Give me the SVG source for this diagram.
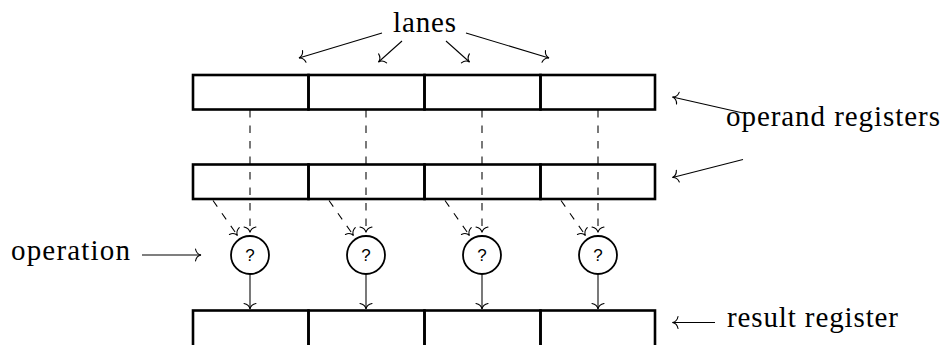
<svg xmlns="http://www.w3.org/2000/svg" width="947" height="345" viewBox="0 0 947 345">
  <style>
    .cell { fill: none; stroke: #000; stroke-width: 2.6; }
    .op { fill: #fff; stroke: #000; stroke-width: 1.8; }
    .q { font-family: 'Liberation Sans', 'DejaVu Sans', sans-serif; font-size: 17px; text-anchor: middle; fill: #000; }
    .lbl { font-family: 'Liberation Serif', 'DejaVu Serif', serif; font-size: 29px; fill: #000; }
    .arr { fill: none; stroke: #000; stroke-width: 1.05; marker-end: url(#to); }
    .dash { stroke-dasharray: 7.5 8; }
  </style>
  <defs>
    <!-- curved-barb arrow tip, tip at the path end -->
    <marker id="to" markerUnits="userSpaceOnUse" orient="auto" refX="0" refY="0" markerWidth="14" markerHeight="16" viewBox="-8 -8 9 16" overflow="visible">
      <path d="M -5.5,-6 Q -4.6,-0.9 0,0 Q -4.6,0.9 -5.5,6" fill="none" stroke="#000" stroke-width="1.1" stroke-linecap="round"/>
    </marker>
  </defs>

  <!-- first operand register -->
  <g id="reg-a">
    <rect class="cell" x="193" y="75" width="115.5" height="34.5"/>
    <rect class="cell" x="308.5" y="75" width="116" height="34.5"/>
    <rect class="cell" x="424.5" y="75" width="116" height="34.5"/>
    <rect class="cell" x="540.5" y="75" width="114.5" height="34.5"/>
  </g>

  <!-- second operand register -->
  <g id="reg-b">
    <rect class="cell" x="193" y="164.5" width="115.5" height="34.5"/>
    <rect class="cell" x="308.5" y="164.5" width="116" height="34.5"/>
    <rect class="cell" x="424.5" y="164.5" width="116" height="34.5"/>
    <rect class="cell" x="540.5" y="164.5" width="114.5" height="34.5"/>
  </g>

  <!-- result register (runs past the bottom edge) -->
  <g id="reg-r">
    <rect class="cell" x="193" y="310.5" width="115.5" height="40"/>
    <rect class="cell" x="308.5" y="310.5" width="116" height="40"/>
    <rect class="cell" x="424.5" y="310.5" width="116" height="40"/>
    <rect class="cell" x="540.5" y="310.5" width="114.5" height="40"/>
  </g>

  <!-- per-lane operations -->
  <g id="op1"><circle class="op" cx="250" cy="255" r="19"/><text class="q" x="250" y="260.5">?</text></g>
  <g id="op2"><circle class="op" cx="366" cy="255" r="19"/><text class="q" x="366" y="260.5">?</text></g>
  <g id="op3"><circle class="op" cx="482" cy="255" r="19"/><text class="q" x="482" y="260.5">?</text></g>
  <g id="op4"><circle class="op" cx="598" cy="255" r="19"/><text class="q" x="598" y="260.5">?</text></g>

  <!-- labels -->
  <g id="lbl-lanes"><text class="lbl" x="393" y="32" textLength="63" lengthAdjust="spacing">lanes</text></g>
  <g id="lbl-operands"><text class="lbl" x="726" y="126" textLength="214" lengthAdjust="spacing">operand registers</text></g>
  <g id="lbl-operation"><text class="lbl" x="11" y="260" textLength="119" lengthAdjust="spacing">operation</text></g>
  <g id="lbl-result"><text class="lbl" x="727" y="326.5" textLength="171" lengthAdjust="spacing">result register</text></g>

  <g id="connectors">
    <!-- operand A lanes into each operation -->
    <line class="arr dash" x1="250" y1="110" x2="250" y2="232.5"/>
    <line class="arr dash" x1="366" y1="110" x2="366" y2="232.5"/>
    <line class="arr dash" x1="482" y1="110" x2="482" y2="232.5"/>
    <line class="arr dash" x1="598" y1="110" x2="598" y2="232.5"/>
    <!-- operand B lanes into each operation -->
    <line class="arr dash" x1="213" y1="200.5" x2="237.5" y2="235.5"/>
    <line class="arr dash" x1="329" y1="200.5" x2="353.5" y2="235.5"/>
    <line class="arr dash" x1="445" y1="200.5" x2="469.5" y2="235.5"/>
    <line class="arr dash" x1="561" y1="200.5" x2="585.5" y2="235.5"/>
    <!-- operations into result lanes -->
    <line class="arr" x1="250" y1="274.5" x2="250" y2="309"/>
    <line class="arr" x1="366" y1="274.5" x2="366" y2="309"/>
    <line class="arr" x1="482" y1="274.5" x2="482" y2="309"/>
    <line class="arr" x1="598" y1="274.5" x2="598" y2="309"/>
    <!-- label pointers -->
    <line class="arr" x1="382" y1="33" x2="299" y2="58"/>
    <line class="arr" x1="402" y1="41" x2="378.5" y2="62"/>
    <line class="arr" x1="446" y1="41" x2="469.5" y2="62"/>
    <line class="arr" x1="466" y1="33" x2="549" y2="58"/>
    <line class="arr" x1="743" y1="113" x2="672.5" y2="97"/>
    <line class="arr" x1="743" y1="159.5" x2="672.5" y2="177.5"/>
    <line class="arr" x1="142" y1="255" x2="201" y2="255"/>
    <line class="arr" x1="715" y1="322.5" x2="672.5" y2="322.5"/>
  </g>
</svg>
